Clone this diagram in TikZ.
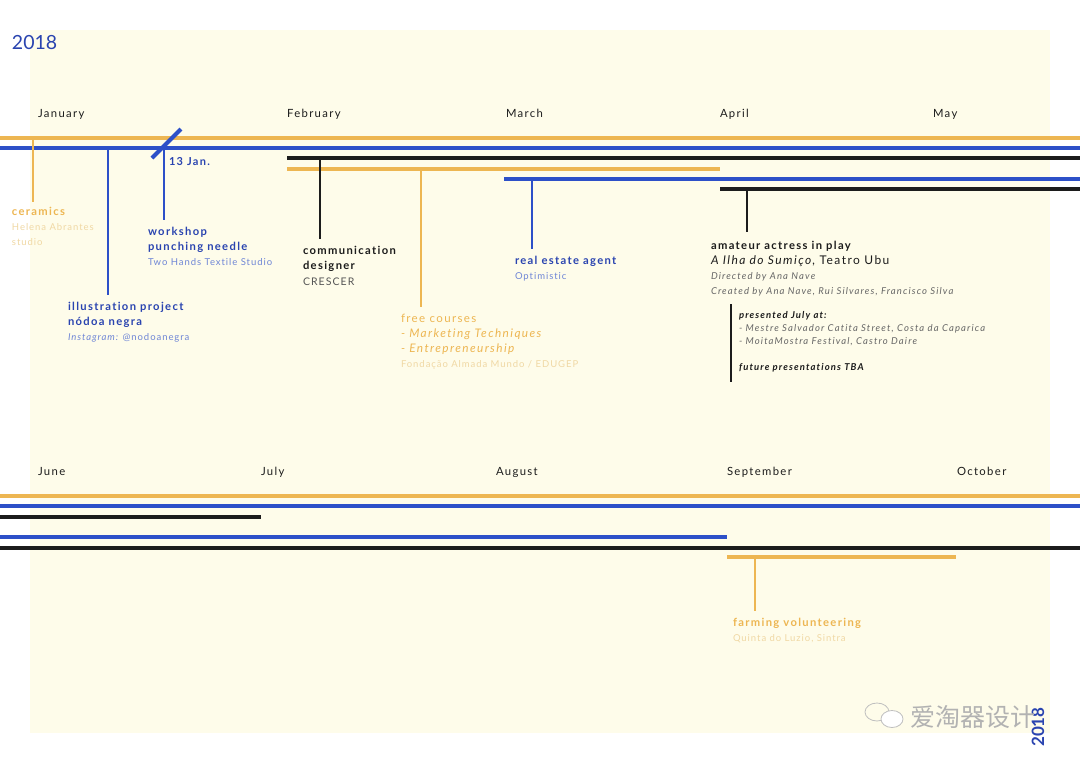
\documentclass[tikz,border=0pt]{standalone}
\usepackage{fontspec}
\setmainfont{Lato}[Ligatures={NoCommon,NoRare}]
\newfontfamily\wfont{Lato}[LetterSpace=12, Ligatures={NoCommon,NoRare}]
\newfontfamily\mfont{Lato}[LetterSpace=10, Ligatures={NoCommon,NoRare}]
\newfontfamily\ifont{Lato}[LetterSpace=12, Ligatures={NoCommon,NoRare}]
\newfontfamily\cjk{Noto Sans CJK SC}
\definecolor{cream}{HTML}{FEFCEA}
\definecolor{tblue}{HTML}{2D50C8}
\definecolor{dblue}{HTML}{2A44B0}
\definecolor{torange}{HTML}{EDB652}
\definecolor{tblack}{HTML}{1C1C1C}
\definecolor{lorange}{HTML}{F0D8A4}
\definecolor{lblue}{HTML}{6F86D6}
\definecolor{tgray}{HTML}{555555}
\definecolor{igray}{HTML}{666666}
\tikzset{
  tl/.style={line width=3.6pt},
  conn/.style={line width=1.5pt},
  lab/.style={anchor=base west, inner sep=0pt, outer sep=0pt},
  month/.style={lab, text=tblack, font=\wfont\fontsize{11.3}{12}\selectfont},
  ttl/.style={lab, font=\wfont\bfseries\fontsize{11.2}{12}\selectfont},
  sub/.style={lab, font=\mfont\fontsize{9.5}{10}\selectfont},
  isub/.style={lab, font=\ifont\itshape\fontsize{9.5}{10}\selectfont, text=igray},
  ibold/.style={isub, text=tblack, font=\ifont\bfseries\itshape\fontsize{9.5}{10}\selectfont},
}
\begin{document}
\begin{tikzpicture}[x=1pt,y=-1pt]
\useasboundingbox (0,0) rectangle (1080,764);
\fill[white] (0,0) rectangle (1080,764);
\fill[cream] (30,30) rectangle (1050,733);

% year
\node[lab, text=dblue, font=\fontsize{19.5}{22}\selectfont] (year) at (12,49) {2018};
\node[anchor=center, inner sep=0pt, text=dblue, rotate=90, font=\bfseries\fontsize{17}{18}\selectfont] (year2) at (1038,727) {2018};

% months
\node[month] (jan) at (38,117) {January};
\node[month] (feb) at (287,117) {February};
\node[month] (mar) at (506,117) {March};
\node[month] (apr) at (720,117) {April};
\node[month] (may) at (933,117) {May};
\node[month] (jun) at (38,475) {June};
\node[month] (jul) at (261,475) {July};
\node[month] (aug) at (496,475) {August};
\node[month] (sep) at (727,475) {September};
\node[month] (oct) at (957,475) {October};

% top timeline coordinates
\coordinate (o1a) at (0,138);   \coordinate (o1b) at (1080,138);
\coordinate (b1a) at (0,148);   \coordinate (b1b) at (1080,148);
\coordinate (k1a) at (287,158); \coordinate (k1b) at (1080,158);
\coordinate (o2a) at (287,169); \coordinate (o2b) at (720,169);
\coordinate (b2a) at (504,179); \coordinate (b2b) at (1080,179);
\coordinate (k2a) at (720,189); \coordinate (k2b) at (1080,189);
\draw[tl, torange] (o1a) -- (o1b);
\draw[tl, tblue] (b1a) -- (b1b);
\draw[tl, tblack] (k1a) -- (k1b);
\draw[tl, torange] (o2a) -- (o2b);
\draw[tl, tblue] (b2a) -- (b2b);
\draw[tl, tblack] (k2a) -- (k2b);

% bottom timeline coordinates
\coordinate (o3a) at (0,496);   \coordinate (o3b) at (1080,496);
\coordinate (b3a) at (0,506);   \coordinate (b3b) at (1080,506);
\coordinate (k3a) at (0,517);   \coordinate (k3b) at (261,517);
\coordinate (b4a) at (0,537);   \coordinate (b4b) at (727,537);
\coordinate (k4a) at (0,548);   \coordinate (k4b) at (1080,548);
\coordinate (o4a) at (727,557); \coordinate (o4b) at (956,557);
\draw[tl, torange] (o3a) -- (o3b);
\draw[tl, tblue] (b3a) -- (b3b);
\draw[tl, tblack] (k3a) -- (k3b);
\draw[tl, tblue] (b4a) -- (b4b);
\draw[tl, tblack] (k4a) -- (k4b);
\draw[tl, torange] (o4a) -- (o4b);

% 13 Jan slash
\coordinate (sl1) at (152,158); \coordinate (sl2) at (181,129);
\draw[line width=4pt, tblue] (sl1) -- (sl2);
\node[lab, text=dblue, font=\wfont\bfseries\fontsize{11}{12}\selectfont] (jan13) at (169,165) {13 Jan.};

% ceramics
\coordinate (c0) at (33,138); \coordinate (c1) at (33,202);
\draw[conn, torange] (c0) -- (c1);
\node[ttl, text=torange] (cer1) at (12,215) {ceramics};
\node[sub, text=lorange] (cer2) at (12,230) {Helena Abrantes};
\node[sub, text=lorange] (cer3) at (12,245) {studio};

% illustration project
\coordinate (i0) at (108,148); \coordinate (i1) at (108,295);
\draw[conn, tblue] (i0) -- (i1);
\node[ttl, text=dblue] (ill1) at (68,310) {illustration project};
\node[ttl, text=dblue] (ill2) at (68,325) {nódoa negra};
\node[sub, text=lblue] (ill3) at (68,340) {\itshape Instagram: \upshape @nodoanegra};

% workshop
\coordinate (w0) at (164,148); \coordinate (w1) at (164,220);
\draw[conn, tblue] (w0) -- (w1);
\node[ttl, text=dblue] (ws1) at (148,235) {workshop};
\node[ttl, text=dblue] (ws2) at (148,250) {punching needle};
\node[sub, text=lblue] (ws3) at (148,265) {Two Hands Textile Studio};

% communication designer
\coordinate (cd0) at (320,158); \coordinate (cd1) at (320,239);
\draw[conn, tblack] (cd0) -- (cd1);
\node[ttl, text=tblack] (cd2) at (303,254) {communication};
\node[ttl, text=tblack] (cd3) at (303,269) {designer};
\node[sub, text=tgray, font=\mfont\fontsize{10.5}{11}\selectfont] (cd4) at (303,285) {CRESCER};

% free courses
\coordinate (f0) at (421,169); \coordinate (f1) at (421,307);
\draw[conn, torange] (f0) -- (f1);
\node[lab, text=torange, font=\wfont\fontsize{11.5}{12}\selectfont] (fc1) at (401,322) {free courses};
\node[lab, text=torange, font=\wfont\itshape\fontsize{11.8}{12}\selectfont] (fc2) at (401,337) {- Marketing Techniques};
\node[lab, text=torange, font=\wfont\itshape\fontsize{11.8}{12}\selectfont] (fc3) at (401,352) {- Entrepreneurship};
\node[sub, text=lorange] (fc4) at (401,367) {Fondação Almada Mundo / EDUGEP};

% real estate agent
\coordinate (r0) at (532,179); \coordinate (r1) at (532,249);
\draw[conn, tblue] (r0) -- (r1);
\node[ttl, text=dblue] (re1) at (515,264) {real estate agent};
\node[sub, text=lblue] (re2) at (515,279) {Optimistic};

% amateur actress
\coordinate (a0) at (747,189); \coordinate (a1) at (747,232);
\draw[conn, tblack] (a0) -- (a1);
\node[ttl, text=tblack] (am1) at (711,249) {amateur actress in play};
\node[lab, text=tblack, font=\wfont\fontsize{12}{13}\selectfont] (am2) at (711,264) {\itshape A Ilha do Sumiço, \upshape Teatro Ubu};
\node[isub] (am3) at (711,279) {Directed by Ana Nave};
\node[isub] (am4) at (711,294) {Created by Ana Nave, Rui Silvares, Francisco Silva};
\coordinate (p0) at (731,304); \coordinate (p1) at (731,382);
\draw[conn, tblack] (p0) -- (p1);
\node[ibold] (pr1) at (739,318) {presented July at:};
\node[isub] (pr2) at (739,331) {- Mestre Salvador Catita Street, Costa da Caparica};
\node[isub] (pr3) at (739,344) {- MoitaMostra Festival, Castro Daire};
\node[ibold] (pr4) at (739,370) {future presentations TBA};

% farming volunteering
\coordinate (fv0) at (755,557); \coordinate (fv1) at (755,611);
\draw[conn, torange] (fv0) -- (fv1);
\node[ttl, text=torange] (fv2) at (733,626) {farming volunteering};
\node[sub, text=lorange] (fv3) at (733,641) {Quinta do Luzio, Sintra};

% watermark
\draw[gray!50, line width=0.8pt] (877,712) ellipse (12 and 9);
\draw[gray!50, line width=0.8pt, fill=white] (892,719) ellipse (11 and 8.5);
\node[lab, text=gray!60, font=\cjk\fontsize{25}{26}\selectfont] (wm) at (910,726) {爱淘器设计};
\end{tikzpicture}
\end{document}
